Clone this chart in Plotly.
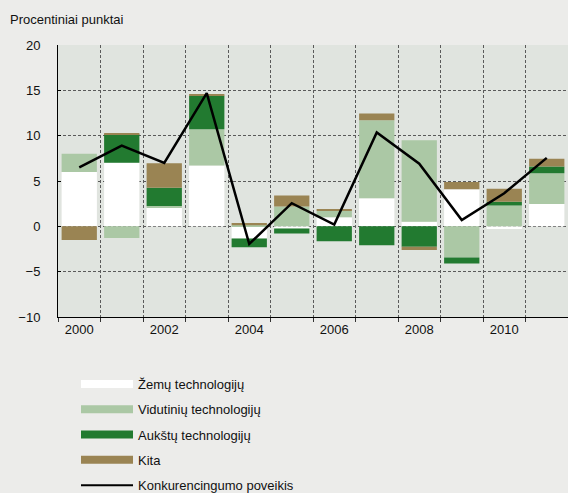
import plotly.graph_objects as go

years = [2000, 2001, 2002, 2003, 2004, 2005, 2006, 2007, 2008, 2009, 2010, 2011]
tick_years = [2000, 2002, 2004, 2006, 2008, 2010]
tick_labels = ["2000", "2002", "2004", "2006", "2008", "2010"]

zemu = [6.0, 7.0, 2.1, 6.7, -1.35, -0.25, 1.0, 3.1, 0.5, 4.1, -0.3, 2.45]
vidutiniu = [2.0, -1.3, 0.15, 4.0, 0.12, 2.2, 0.7, 8.6, 9.0, -3.45, 2.3, 3.4]
aukstu = [0.0, 3.15, 2.0, 3.7, -0.95, -0.55, -1.65, -2.1, -2.25, -0.65, 0.4, 0.75]
kita = [-1.5, 0.1, 2.7, 0.2, 0.25, 1.2, 0.2, 0.75, -0.35, 0.8, 1.45, 0.85]
poveikis = [6.5, 8.9, 7.0, 14.7, -1.95, 2.55, 0.2, 10.35, 6.9, 0.7, 3.65, 7.55]

names = ["Žemų technologijų", "Vidutinių technologijų", "Aukštų technologijų", "Kita",
         "Konkurencingumo poveikis"]
colors = ["#ffffff", "#abc8a5", "#227a30", "#9a8453", "#000000"]

fig = go.Figure()
for vals, name, col in zip([zemu, vidutiniu, aukstu, kita], names[:4], colors[:4]):
    fig.add_trace(go.Bar(x=years, y=vals, name=name, marker=dict(color=col, line=dict(width=0)),
                         showlegend=False))

fig.add_trace(go.Scatter(x=years, y=poveikis, mode="lines", name=names[4],
                         line=dict(color="black", width=2.5), showlegend=False))

# legend entries
for i, (name, col) in enumerate(zip(names, colors)):
    fig.add_trace(go.Scatter(x=[None], y=[None], mode="lines", name=name,
                             legendgroup="g%d" % i,
                             line=dict(color=col, width=8 if i < 4 else 2)))

grid_col = "#5a5a5a"
fig.update_layout(
    width=568, height=493,
    margin=dict(l=58, r=0, t=45, b=176, autoexpand=False),
    paper_bgcolor="#ececea",
    plot_bgcolor="#e0e4df",
    barmode="relative",
    bargap=0.17,
    font=dict(family="Liberation Sans, Arial, sans-serif", size=13, color="#111111"),
    xaxis=dict(range=[1999.5, 2011.5], tickvals=tick_years, ticktext=tick_labels,
               showgrid=False, zeroline=False, ticks="",
               showline=True, linecolor="black", linewidth=1,
               minor=dict(tickvals=[y - 0.5 for y in years] + [2011.5], showgrid=True,
                          gridcolor=grid_col, griddash="3px,2px", gridwidth=1,
                          ticks="outside", ticklen=4, tickcolor="#333333")),
    yaxis=dict(range=[-10, 20], dtick=5, showgrid=True, gridcolor=grid_col,
               griddash="3px,2px", gridwidth=1, zeroline=False,
               showline=True, linecolor="black", linewidth=1,
               ticks="inside", ticklen=3, tickcolor="black", ticklabelstandoff=14),
    legend=dict(xref="container", yref="container", x=76 / 568, y=1 - 369 / 493,
                xanchor="left", yanchor="top", itemwidth=52, traceorder="grouped",
                tracegroupgap=5.4, bgcolor="rgba(0,0,0,0)", font=dict(size=13)),
    annotations=[dict(text="Procentiniai punktai", xref="paper", yref="paper",
                      x=(8 - 58) / 510, y=(317 - 19.5) / 272, xanchor="left",
                      yanchor="middle", showarrow=False, font=dict(size=13))],
)

fig.write_html("out.html",
               config={"displayModeBar": False},
               post_script="document.body.style.margin='0px';"
                           "document.body.style.background='#ececea';")
